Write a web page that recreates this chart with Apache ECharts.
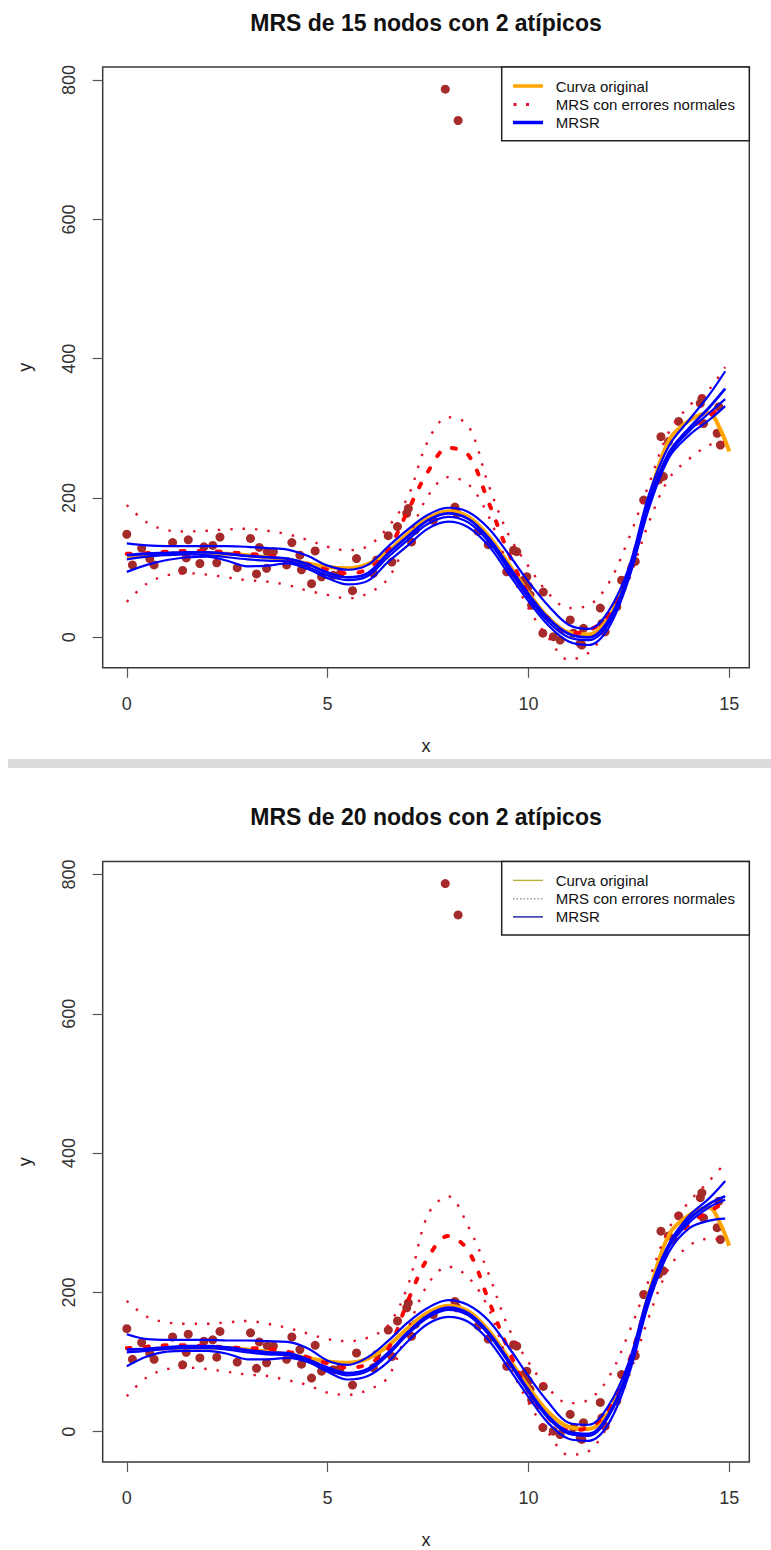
<!DOCTYPE html>
<html>
<head>
<meta charset="utf-8">
<script src="https://cdn.jsdelivr.net/npm/echarts@6/dist/echarts.min.js"></script>
<style>
html,body{margin:0;padding:0;background:#fff;}
#c{width:771px;height:1550px;}
</style>
</head>
<body>
<div id="c"></div>
<script>
// ---------------- data ----------------
const titles = ['MRS de 15 nodos con 2 atípicos', 'MRS de 20 nodos con 2 atípicos'];
const legendLabels = ['Curva original', 'MRS con errores normales', 'MRSR'];
const xTicks = [0, 5, 10, 15];
const yTicks = [0, 200, 400, 600, 800];

// observed points (same sample in both panels, incl. 2 outliers)
const pointX = [0,0.14,0.37,0.57,0.68,1.14,1.39,1.48,1.53,1.82,1.92,2.14,2.24,2.32,2.75,3.08,3.23,3.3,3.48,3.5,
  3.65,3.98,4.11,4.31,4.35,4.6,4.69,4.85,5.14,5.31,5.62,5.72,6.14,6.22,6.51,6.6,6.74,6.97,7.01,7.09,
  7.18,7.63,7.93,8.17,8.22,8.25,8.75,9.0,9.46,9.63,9.71,9.88,9.96,10.0,10.04,10.08,10.36,10.37,10.62,10.79,
  11.04,11.12,11.29,11.33,11.37,11.79,11.83,11.91,12.2,12.32,12.66,12.87,13.24,13.3,13.36,13.49,13.74,14.28,14.32,14.36,
  14.7,14.74,14.78];
const pointY = [148,104,128,113,104,136,96,114,140,106,130,132,107,144,100,142,91,129,99,123,
  123,104,136,118,97,77,124,87,89,91,67,113,92,111,146,108,159,178,185,137,
  154,168,787,187,178,742,152,133,94,125,123,82,87,73,61,46,6,65,1,-4,
  25,6,-9,-11,13,42,20,8,44,82,109,197,226,288,231,281,310,336,343,307,
  293,331,276];

// original curve
const origX = [0,0.5,1,1.5,2,2.5,3,3.5,4,4.5,5,5.5,6,6.5,7,7.5,8,8.5,9,9.5,10,10.5,11,11.5,12,12.5,13,13.5,14,14.5,14.75,15];
const origY = [116,118,120,121,121,120,118,115,111,106,101,99,105,123,149,171,181,173,146,106,64,28,7,4,28,92,198,283,311,322,302,267];

// evaluation grid of the fitted curves
const fitX = [0,0.5,1,1.5,2,2.5,3,3.5,4,4.5,5,5.5,6,6.5,7,7.5,8,8.5,9,9.5,10,10.5,11,11.5,12,12.5,13,13.5,14,14.5,14.9];

// panel 1: 15 nodes
const mrsUpper15  = [190,165,154,152,153,155,156,153,148,140,130,125,131,158,202,282,316,304,220,148,102,63,42,46,78,142,220,295,332,356,388];
const mrsCenter15 = [120,121,123,124,124,122,120,117,112,105,97,92,98,125,182,238,272,262,195,122,62,27,6,10,32,98,192,262,298,318,334];
const mrsLower15  = [51,77,89,92,90,86,82,80,75,67,61,56,63,84,142,203,230,220,175,102,42,-1,-32,-22,17,82,165,228,256,276,280];
const mrsrUpper15  = [135,132,131,131,131,131,130,128,126,117,103,97,104,130,155,176,186,180,157,120,80,45,18,12,38,100,205,275,312,348,382];
const mrsrCenter15 = [118,120,121,122,122,120,117,115,113,105,93,86,92,120,145,168,178,170,143,103,62,27,5,0,25,92,195,265,300,330,357];
const mrsrMid15    = [112,116,118,119,118,115,112,110,109,101,89,82,88,115,140,163,173,165,138,98,57,22,0,-4,20,88,190,262,296,322,342];
const mrsrLower15  = [94,104,111,115,116,110,102,103,106,98,85,76,81,108,132,156,166,158,132,92,52,17,-6,-11,14,84,185,258,290,312,332];

// panel 2: 20 nodes
const mrsUpper20  = [188,165,157,155,155,157,159,155,149,141,133,130,135,152,210,312,338,295,228,150,100,62,41,46,78,142,218,292,330,360,386];
const mrsCenter20 = [120,122,124,124,123,121,120,119,115,107,98,92,97,118,188,250,281,260,190,118,58,20,2,6,32,100,192,262,298,316,330];
const mrsLower20  = [51,78,90,92,90,86,82,80,74,67,56,53,60,78,148,212,237,222,178,100,42,-2,-33,-28,12,80,165,235,267,277,276];
const mrsrUpper20  = [140,133,132,132,132,131,131,130,129,120,102,96,107,130,157,178,189,182,160,122,80,42,13,10,38,100,200,270,310,335,360];
const mrsrCenter20 = [118,119,121,123,123,121,117,114,113,104,92,84,90,113,143,167,178,170,143,103,60,22,0,-3,25,92,195,268,305,327,338];
const mrsrMid20    = [114,116,119,120,120,118,114,111,110,101,89,81,87,110,140,164,175,167,140,100,57,19,-3,-6,22,89,192,265,300,322,333];
const mrsrLower20  = [94,108,115,116,116,112,104,104,106,100,86,75,80,100,130,155,165,158,132,92,50,12,-10,-13,12,82,185,258,292,303,306];

// ---------------- layout / style ----------------
const FONT = "'Liberation Sans', Arial, Helvetica, sans-serif";
const PLOT_L = 102.7, PLOT_R = 749.3, PLOT_T = 67, PLOT_H = 600.7;
const SHIFT = [0, 794.4];
const X_RANGE = [-0.6, 15.5];
const Y_RANGE = [-43.6, 818.8];

const panels = [
  {up: mrsUpper15, c: mrsCenter15, lo: mrsLower15, rU: mrsrUpper15, rC: mrsrCenter15, rM: mrsrMid15, rL: mrsrLower15},
  {up: mrsUpper20, c: mrsCenter20, lo: mrsLower20, rU: mrsrUpper20, rC: mrsrCenter20, rM: mrsrMid20, rL: mrsrLower20}
];

const pairs = (xs, ys) => xs.map((x, i) => [x, ys[i]]);

const grid = [], xAxis = [], yAxis = [], series = [], graphic = [];

panels.forEach((pd, p) => {
  const dy = SHIFT[p];
  grid.push({show: true, left: PLOT_L, top: PLOT_T + dy, width: PLOT_R - PLOT_L, height: PLOT_H,
    borderColor: '#3a3a3a', borderWidth: 1.5, backgroundColor: 'transparent', outerBoundsMode: 'none'});
  xAxis.push({type: 'value', gridIndex: p, position: 'bottom', min: X_RANGE[0], max: X_RANGE[1],
    axisLine: {show: false, onZero: false}, splitLine: {show: false},
    axisTick: {show: true, inside: false, length: 10, customValues: xTicks, lineStyle: {color: '#555', width: 1.2}},
    axisLabel: {customValues: xTicks, margin: 27, fontSize: 18, color: '#333', fontFamily: FONT},
    name: 'x', nameLocation: 'middle', nameGap: 69,
    nameTextStyle: {fontSize: 18, color: '#222', fontFamily: FONT}});
  yAxis.push({type: 'value', gridIndex: p, position: 'left', min: Y_RANGE[0], max: Y_RANGE[1],
    axisLine: {show: false, onZero: false}, splitLine: {show: false},
    axisTick: {show: true, inside: false, length: 10, customValues: yTicks, lineStyle: {color: '#555', width: 1.2}},
    axisLabel: {customValues: yTicks, rotate: 90, margin: 25, fontSize: 18, color: '#333', fontFamily: FONT},
    name: 'y', nameLocation: 'middle', nameGap: 69,
    nameTextStyle: {fontSize: 18, color: '#222', fontFamily: FONT}});

  const base = {xAxisIndex: p, yAxisIndex: p, silent: true, animation: false};
  series.push(Object.assign({}, base, {type: 'scatter', name: 'datos', data: pairs(pointX, pointY),
    symbolSize: 9, itemStyle: {color: '#A52A2A', opacity: 1}, z: 2}));
  series.push(Object.assign({}, base, {type: 'line', name: legendLabels[0], data: pairs(origX, origY),
    showSymbol: false, smooth: 0.35, lineStyle: {color: '#FFA500', width: 4}, z: 3}));
  [pd.up, pd.lo].forEach(arr => series.push(Object.assign({}, base, {type: 'line', name: legendLabels[1],
    data: pairs(fitX, arr), showSymbol: false, smooth: 0.35,
    lineStyle: {color: '#E0102A', width: 2.4, type: [2.4, 10], cap: 'butt'}, z: 4})));
  series.push(Object.assign({}, base, {type: 'line', name: legendLabels[1], data: pairs(fitX, pd.c),
    showSymbol: false, smooth: 0.35,
    lineStyle: {color: '#FF0000', width: 4, type: [4, 14], cap: 'round'}, z: 4}));
  [[pd.rU, 2.2], [pd.rM, 2.2], [pd.rL, 2.2], [pd.rC, 2.8]].forEach(([arr, w]) => series.push(Object.assign({}, base, {
    type: 'line', name: legendLabels[2], data: pairs(fitX, arr), showSymbol: false, smooth: 0.35,
    lineStyle: {color: '#0000FF', width: w}, z: 5})));

  // title
  graphic.push({type: 'text', x: (PLOT_L + PLOT_R) / 2, y: 23 + dy, z: 100,
    style: {text: titles[p], font: 'bold 23px ' + FONT, fill: '#111', align: 'center', verticalAlign: 'middle'}});

  // legend box
  const lx = 501.7, lyTop = PLOT_T + dy, lyBot = 140.7 + dy;
  graphic.push({type: 'rect', z: 100, shape: {x: lx, y: lyTop, width: PLOT_R - lx, height: lyBot - lyTop},
    style: {fill: '#fff', stroke: '#222', lineWidth: 1.5}});
  const rows = [86, 104.5, 122.5].map(v => v + dy);
  if (p === 0) {
    graphic.push({type: 'line', z: 101, shape: {x1: 513, y1: rows[0], x2: 543, y2: rows[0]}, style: {stroke: '#FFA500', lineWidth: 3.5}});
    graphic.push({type: 'line', z: 101, shape: {x1: 513.5, y1: rows[1], x2: 530, y2: rows[1]}, style: {stroke: '#E0102A', lineWidth: 3.2, lineDash: [3, 9.5]}});
    graphic.push({type: 'line', z: 101, shape: {x1: 513, y1: rows[2], x2: 543, y2: rows[2]}, style: {stroke: '#0000FF', lineWidth: 3.5}});
  } else {
    graphic.push({type: 'line', z: 101, shape: {x1: 513, y1: rows[0], x2: 543, y2: rows[0]}, style: {stroke: '#B5B536', lineWidth: 1.4}});
    graphic.push({type: 'line', z: 101, shape: {x1: 513, y1: rows[1], x2: 543, y2: rows[1]}, style: {stroke: '#666', lineWidth: 1, lineDash: [1.5, 2]}});
    graphic.push({type: 'line', z: 101, shape: {x1: 513, y1: rows[2], x2: 543, y2: rows[2]}, style: {stroke: '#1C1CA0', lineWidth: 1.4}});
  }
  legendLabels.forEach((t, i) => graphic.push({type: 'text', z: 101, x: 555.7, y: rows[i],
    style: {text: t, font: '15px ' + FONT, fill: '#111', align: 'left', verticalAlign: 'middle'}}));
});

// faint scan band between the two figures
graphic.push({type: 'rect', z: -1, shape: {x: 8, y: 759, width: 763, height: 9}, style: {fill: '#dcdcdc'}});

const chart = echarts.init(document.getElementById('c'), null, {renderer: 'svg'});
chart.setOption({backgroundColor: '#fff', animation: false, grid, xAxis, yAxis, series, graphic});
</script>
</body>
</html>
